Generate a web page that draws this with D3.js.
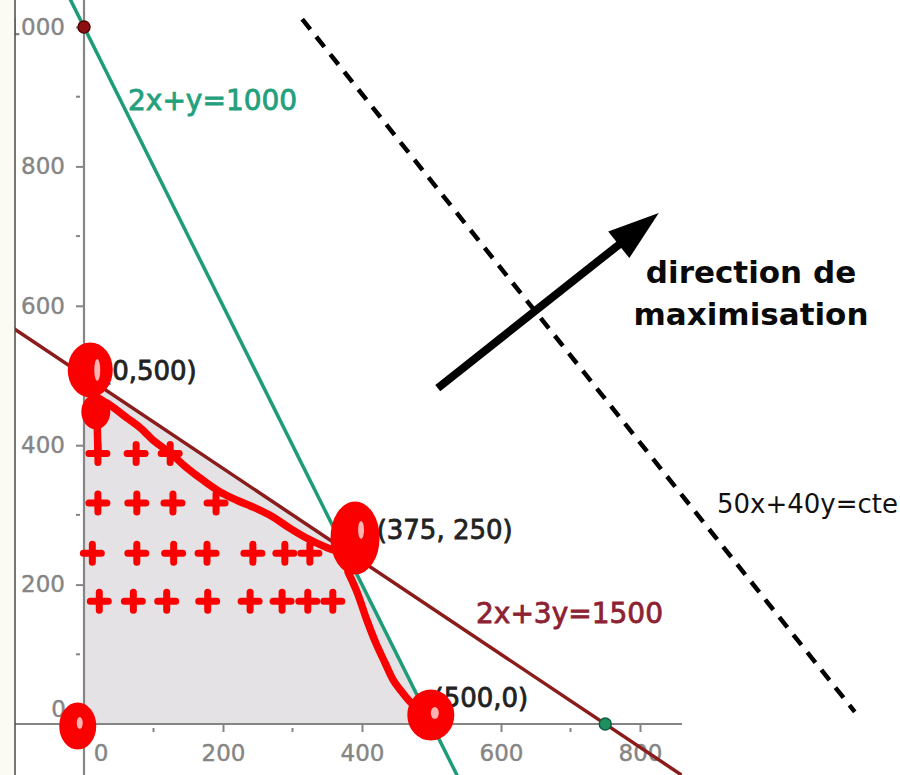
<!DOCTYPE html>
<html>
<head>
<meta charset="utf-8">
<script src="https://cdn.jsdelivr.net/npm/d3@7"></script>
<style>
  html, body { margin: 0; padding: 0; background: #ffffff; }
  svg { display: block; }
</style>
</head>
<body>
<div id="chart"></div>
<script>
// ---------- data ----------
const xTickValues = [200, 400, 600, 800];
const xMinorTicks = [100, 300, 500, 700];
const yTickValues = [200, 400, 600, 800, 1000];
const yMinorTicks = [100, 300, 500, 700, 900];

// constraints  a*x + b*y = c
const constraintA = [2, 2];
const constraintB = [1, 3];
const constraintC = [1000, 1500];
const constraintLabels = ["2x+y=1000", "2x+3y=1500"];

// feasible region vertices
const feasibleX = [0, 0, 375, 500];
const feasibleY = [0, 500, 250, 0];
const vertexLabels = ["(0,500)", "(375, 250)", "(500,0)"];
const vertexLabelX = [0, 375, 500];
const vertexLabelY = [500, 250, 0];

// intercept points shown as dots
const dotX = [0, 750];
const dotY = [1000, 0];

// objective 50x + 40y = cte
const objCoef = [50, 40];
const objConst = 56150;
const objRangeX = [314, 1109];
const objLabel = "50x+40y=cte";
const arrowFrom = [509, 482];
const arrowTo = [827, 733];
const directionText = ["direction de", "maximisation"];

// hand-drawn red annotations (data coordinates)
const plusX = [20, 75, 124,  20, 76, 128, 190,  12, 76, 129, 177, 243, 289, 325,  22, 71, 119, 178, 239, 285, 322, 358];
const plusY = [388, 388, 388,  317, 317, 317, 317,  245, 245, 245, 245, 245, 245, 245,  176, 176, 176, 176, 176, 176, 176, 176];
const edgeCurveX = [19, 37, 62, 81, 102, 124, 145, 171, 196, 220, 246, 272, 296, 318, 350, 368];
const edgeCurveY = [468, 458, 439, 425, 405, 389, 370, 350, 333, 321, 310, 297, 281, 268, 253, 247];
const downCurveX = [380, 393, 407, 420, 433, 445, 455, 469, 483];
const downCurveY = [218, 189, 149, 116, 88, 63, 49, 32, 20];
const stemX = [17, 19, 20];
const stemY = [472, 429, 390];
const circleX = [9, 17, 390, 499, -9];
const circleY = [508, 448, 267, 13, -3];

// ---------- layout ----------
const W = 900, H = 775;
const x = d3.scaleLinear().domain([0, 800]).range([84, 84 + 800 * 0.695]);
const y = d3.scaleLinear().domain([0, 1000]).range([724, 27]);
const panelLeft = 15, panelRight = 682;

const svg = d3.select("#chart").append("svg")
  .attr("width", W).attr("height", H)
  .style("font-family", "'DejaVu Sans', sans-serif");

svg.append("rect").attr("x", 0).attr("y", 0).attr("width", W).attr("height", H).attr("fill", "#ffffff");
svg.append("rect").attr("x", 0).attr("y", 0).attr("width", panelLeft).attr("height", H).attr("fill", "#fbfbf3");

svg.append("defs").append("clipPath").attr("id", "panel")
  .append("rect").attr("x", panelLeft).attr("y", 0)
  .attr("width", panelRight - panelLeft).attr("height", H);

const g = svg.append("g").attr("clip-path", "url(#panel)");

// feasible region
g.append("polygon")
  .attr("points", feasibleX.map((d, i) => [x(d), y(feasibleY[i])].join(",")).join(" "))
  .attr("fill", "#e4e2e4");

// axes lines
const axisColor = "#858585";
g.append("line").attr("x1", panelLeft).attr("x2", panelRight)
  .attr("y1", y(0)).attr("y2", y(0)).attr("stroke", axisColor).attr("stroke-width", 2.2);
g.append("line").attr("x1", x(0)).attr("x2", x(0))
  .attr("y1", 0).attr("y2", H).attr("stroke", axisColor).attr("stroke-width", 2.2);

// axis ticks
const tickColor = "#858585";
const xAxis = d3.axisBottom(x).tickValues(xTickValues).tickFormat(d3.format("d"))
  .tickSize(8).tickPadding(13).tickSizeOuter(0);
const xAx = g.append("g").attr("transform", `translate(0,${y(0)})`).call(xAxis);
const yAxis = d3.axisLeft(y).tickValues(yTickValues).tickFormat(d3.format("d"))
  .tickSize(8).tickPadding(11).tickSizeOuter(0);
const yAx = g.append("g").attr("transform", `translate(${x(0)},0)`).call(yAxis);
[xAx, yAx].forEach(a => {
  a.select(".domain").remove();
  a.selectAll("line").attr("stroke", axisColor).attr("stroke-width", 2);
  a.selectAll("text").attr("fill", tickColor).attr("stroke", tickColor).attr("stroke-width", 0.4)
    .style("font-size", "23px").style("font-family", "'DejaVu Sans', sans-serif");
});
g.selectAll(".xminor").data(xMinorTicks).join("line")
  .attr("x1", d => x(d)).attr("x2", d => x(d))
  .attr("y1", y(0) + 4).attr("y2", y(0) + 8)
  .attr("stroke", axisColor).attr("stroke-width", 2);
g.selectAll(".yminor").data(yMinorTicks).join("line")
  .attr("y1", d => y(d)).attr("y2", d => y(d))
  .attr("x1", x(0) - 8).attr("x2", x(0) - 4)
  .attr("stroke", axisColor).attr("stroke-width", 2);
// zero labels
g.append("text").attr("x", x(0) + 17).attr("y", y(0) + 37).attr("text-anchor", "middle")
  .attr("fill", tickColor).attr("stroke", tickColor).attr("stroke-width", 0.4)
  .style("font-size", "23px").text("0");
g.append("text").attr("x", x(0) - 18).attr("y", y(0) - 7).attr("text-anchor", "end")
  .attr("fill", tickColor).attr("stroke", tickColor).attr("stroke-width", 0.4)
  .style("font-size", "23px").text("0");

// constraint lines
const lineColors = ["#1e9c78", "#8b1c1c"];
const labelColors = ["#23a07c", "#8c2232"];
constraintA.forEach((a, i) => {
  const b = constraintB[i], c = constraintC[i];
  const xs = [-200, 1000];
  g.append("line")
    .attr("x1", x(xs[0])).attr("y1", y((c - a * xs[0]) / b))
    .attr("x2", x(xs[1])).attr("y2", y((c - a * xs[1]) / b))
    .attr("stroke", lineColors[i]).attr("stroke-width", 3.5);
});

// dots
const dotFill = ["#8b1010", "#1f8f60"];
const dotStroke = ["#5a0000", "#0d5f3f"];
dotX.forEach((d, i) => {
  g.append("circle").attr("cx", x(d)).attr("cy", y(dotY[i])).attr("r", 6)
    .attr("fill", dotFill[i]).attr("stroke", dotStroke[i]).attr("stroke-width", 1.5);
});

// constraint labels
g.append("text").attr("x", 128).attr("y", 110).attr("fill", labelColors[0])
  .attr("stroke", labelColors[0]).attr("stroke-width", 0.8)
  .style("font-size", "28px").text(constraintLabels[0]);
g.append("text").attr("x", 476).attr("y", 623).attr("fill", labelColors[1])
  .attr("stroke", labelColors[1]).attr("stroke-width", 0.8)
  .style("font-size", "28px").text(constraintLabels[1]);

// vertex labels
const vdx = [18, 32, 2], vdy = [4.5, -11, -17];
vertexLabels.forEach((t, i) => {
  g.append("text").attr("x", x(vertexLabelX[i]) + vdx[i]).attr("y", y(vertexLabelY[i]) + vdy[i])
    .attr("fill", "#222222").attr("stroke", "#222222").attr("stroke-width", 0.8)
    .style("font-size", "26px").text(t);
});

// border of the graphics view
svg.append("line").attr("x1", panelLeft).attr("x2", panelLeft).attr("y1", 0).attr("y2", H)
  .attr("stroke", "#4a4a4a").attr("stroke-width", 1.5);

// objective dashed line
svg.append("line")
  .attr("x1", x(objRangeX[0])).attr("y1", y((objConst - objCoef[0] * objRangeX[0]) / objCoef[1]))
  .attr("x2", x(objRangeX[1])).attr("y2", y((objConst - objCoef[0] * objRangeX[1]) / objCoef[1]))
  .attr("stroke", "#000").attr("stroke-width", 4.5).attr("stroke-dasharray", "13,9.5");

// arrow
{
  const p0 = [x(arrowFrom[0]), y(arrowFrom[1])];
  const p1 = [x(arrowTo[0]), y(arrowTo[1])];
  const dx = p1[0] - p0[0], dy = p1[1] - p0[1];
  const L = Math.hypot(dx, dy), ux = dx / L, uy = dy / L;
  const headLen = 51, headHalf = 17;
  const base = [p1[0] - ux * headLen, p1[1] - uy * headLen];
  svg.append("line").attr("x1", p0[0]).attr("y1", p0[1])
    .attr("x2", base[0] + ux * 4).attr("y2", base[1] + uy * 4)
    .attr("stroke", "#000").attr("stroke-width", 8);
  svg.append("polygon")
    .attr("points", [
      p1,
      [base[0] - uy * headHalf, base[1] + ux * headHalf],
      [base[0] + uy * headHalf, base[1] - ux * headHalf]
    ].map(p => p.join(",")).join(" "))
    .attr("fill", "#000");
}

// direction text
directionText.forEach((t, i) => {
  svg.append("text").attr("x", 751).attr("y", 283 + i * 42).attr("text-anchor", "middle")
    .attr("fill", "#0a0a0a").style("font-size", "31px").style("font-weight", "bold").text(t);
});
svg.append("text").attr("x", 717).attr("y", 513).attr("fill", "#111")
  .style("font-size", "26px").text(objLabel);

// ---------- red hand-drawn annotations ----------
const red = "#fb0000";
const ann = svg.append("g");
const line = d3.line().curve(d3.curveCatmullRom.alpha(0.5));
const toPts = (xs, ys) => xs.map((d, i) => [x(d), y(ys[i])]);
[[edgeCurveX, edgeCurveY], [downCurveX, downCurveY], [stemX, stemY]].forEach(([xs, ys]) => {
  ann.append("path").attr("d", line(toPts(xs, ys)))
    .attr("fill", "none").attr("stroke", red).attr("stroke-width", 7.5)
    .attr("stroke-linecap", "round").attr("stroke-linejoin", "round");
});
// circles / blobs
const circRx = [21, 13, 23, 22, 17];
const circRy = [26, 16, 35, 24, 22];
const circHole = [[7, 0, 3, 11], null, [6, -8, 3, 9], [4, -2, 4, 6], [2, -3, 3, 6]];
circleX.forEach((d, i) => {
  const cx = x(d), cy = y(circleY[i]);
  ann.append("ellipse").attr("cx", cx).attr("cy", cy).attr("rx", circRx[i]).attr("ry", circRy[i])
    .attr("fill", red).attr("stroke", red).attr("stroke-width", 3);
  const h = circHole[i];
  if (h) {
    ann.append("ellipse").attr("cx", cx + h[0]).attr("cy", cy + h[1]).attr("rx", h[2]).attr("ry", h[3])
      .attr("fill", "#ffffff").attr("opacity", 0.7);
  }
});
// plus marks
plusX.forEach((d, i) => {
  const px = x(d), py = y(plusY[i]);
  ann.append("path")
    .attr("d", `M${px - 9},${py}L${px + 9},${py}M${px},${py - 9}L${px},${py + 9}`)
    .attr("stroke", red).attr("stroke-width", 7).attr("stroke-linecap", "round").attr("fill", "none");
});
</script>
</body>
</html>
